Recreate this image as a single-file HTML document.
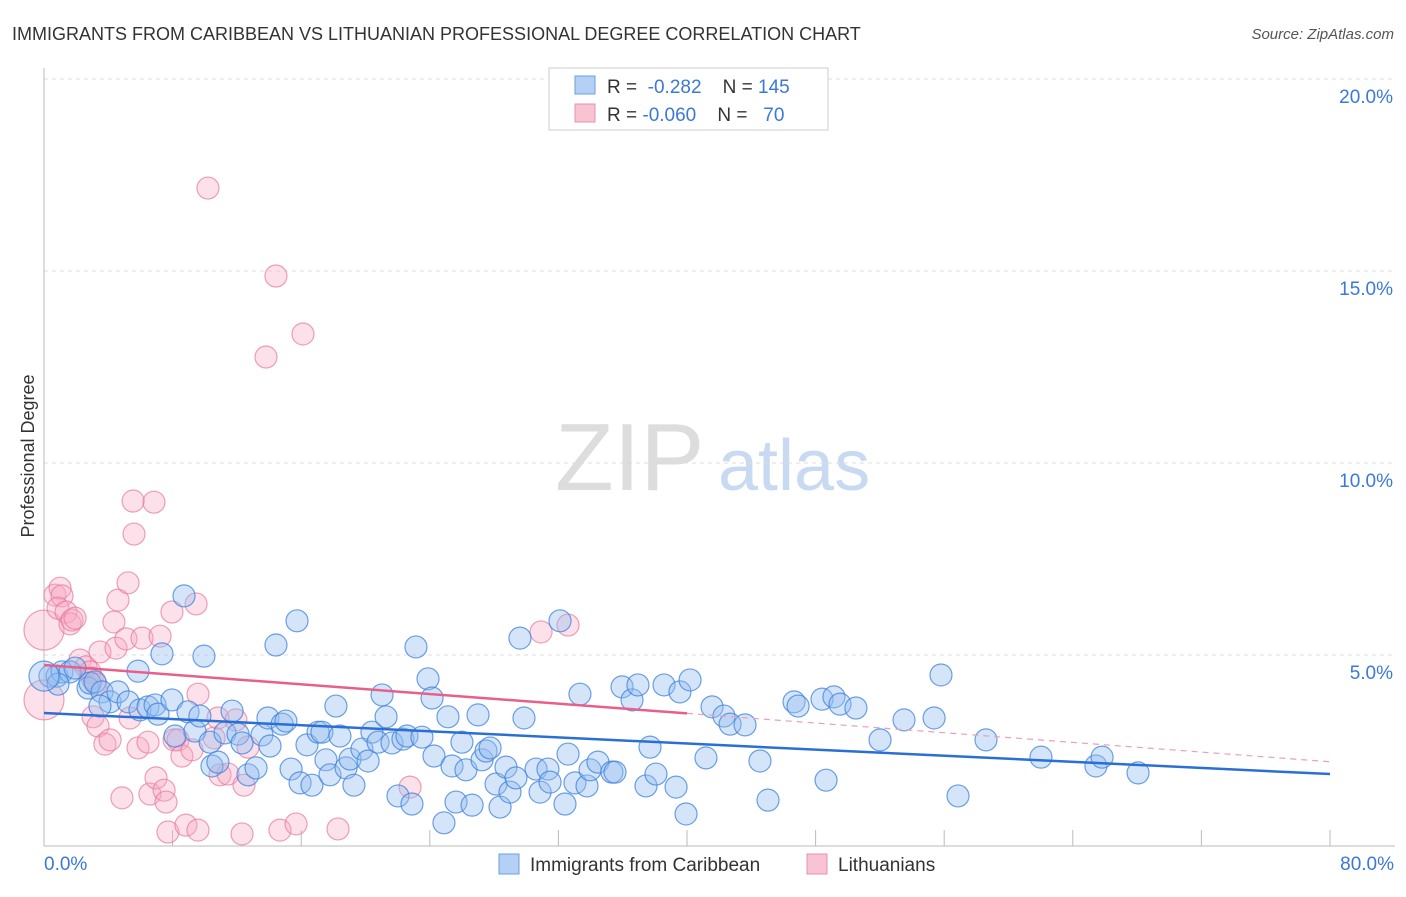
<!DOCTYPE html>
<html><head><meta charset="utf-8"><style>
body{margin:0;background:#fff;font-family:"Liberation Sans",sans-serif;}
svg text{font-family:"Liberation Sans",sans-serif;}
</style></head><body>
<svg width="1406" height="892">
<text x="12" y="40" font-size="18" fill="#333">IMMIGRANTS FROM CARIBBEAN VS LITHUANIAN PROFESSIONAL DEGREE CORRELATION CHART</text>
<text x="1394" y="39" font-size="15" fill="#555" font-style="italic" text-anchor="end">Source: ZipAtlas.com</text>
<text x="555" y="490" font-size="96" fill="#ddd" font-family="Liberation Serif">ZIP</text>
<text x="718" y="490" font-size="72" fill="#c8daf2">atlas</text>
<text transform="translate(34,456) rotate(-90)" font-size="18" fill="#333" text-anchor="middle">Professional Degree</text>
<g id="grid"></g><g id="axes"></g><g id="pts"></g><g id="trend"></g>
<g>
<rect x="549" y="68" width="279" height="62" fill="#fff" stroke="#ccc"/>
<rect x="575" y="76" width="20" height="18" fill="#b4d0f4" stroke="#6a9fe0"/>
<rect x="575" y="104" width="20" height="18" fill="#f8c4d4" stroke="#e890aa"/>
<text x="607" y="93" font-size="19" fill="#333">R = <tspan fill="#3b78d8">&#160;-0.282</tspan>&#160;&#160;&#160; N = <tspan fill="#3b78d8">145</tspan></text>
<text x="607" y="121" font-size="19" fill="#333">R = <tspan fill="#3b78d8">-0.060</tspan>&#160;&#160;&#160; N = <tspan fill="#3b78d8">&#160;&#160;70</tspan></text>
</g>
<g>
<rect x="499" y="854" width="20" height="20" fill="#b4d0f4" stroke="#6a9fe0"/>
<text x="530" y="871" font-size="19" fill="#333">Immigrants from Caribbean</text>
<rect x="807" y="854" width="20" height="20" fill="#f8c4d4" stroke="#e890aa"/>
<text x="838" y="871" font-size="19" fill="#333">Lithuanians</text>
</g>
</svg>
<script>
const yTicks=[5,10,15,20];
const xTickLabels=["0.0%","80.0%"];
const blueX=[.37,.81,1.12,1.62,1.93,.87,2.74,2.86,3.17,3.61,4.11,4.60,3.48,5.23,5.85,5.97,6.47,6.91,7.09,7.34,7.96,8.15,8.71,8.96,9.39,9.70,9.95,10.45,10.82,10.33,11.26,11.70,12.07,12.32,12.69,13.19,13.56,13.93,14.06,14.43,14.81,15.05,15.37,15.74,15.93,16.36,16.67,17.05,17.29,17.54,17.79,18.16,18.41,18.79,19.04,19.28,19.78,20.16,20.40,20.78,21.03,21.28,21.65,22.02,22.33,22.58,22.89,23.14,23.51,23.89,24.14,24.26,24.88,25.13,25.38,25.63,26.00,26.25,26.63,27.00,27.25,27.50,27.75,28.12,28.37,28.74,28.99,29.36,29.61,29.86,30.61,30.86,31.35,31.48,32.10,32.41,32.60,33.03,33.34,33.78,33.97,34.46,35.33,35.52,35.96,36.58,36.95,37.45,37.70,38.07,38.57,39.32,39.56,39.94,40.19,41.18,41.56,42.30,42.68,43.61,44.54,45.04,46.66,46.91,48.40,48.65,49.14,49.52,50.51,52.01,53.50,55.37,55.80,56.86,58.60,62.02,65.44,65.82,68.06,0];
const blueY=[4.45,4.45,4.56,4.56,4.66,4.24,4.14,4.27,4.30,4.04,3.78,4.04,3.67,3.78,4.58,3.57,3.65,3.70,3.46,5.03,3.83,2.89,6.54,3.52,3.02,3.41,4.97,2.11,2.21,2.73,2.97,3.54,2.94,2.71,1.88,2.06,2.92,3.36,2.63,5.26,3.20,3.28,2.03,5.89,1.67,2.66,1.61,2.99,2.99,2.27,1.88,3.67,2.89,2.06,2.29,1.61,2.55,2.24,2.99,2.73,3.96,3.39,2.71,1.33,2.81,2.89,1.12,5.21,2.86,4.38,3.88,2.37,0.63,3.39,2.11,1.17,2.73,2.01,1.09,3.44,2.27,2.50,2.58,1.64,1.04,2.08,1.43,1.80,5.44,3.36,2.03,1.43,2.03,1.69,5.89,1.12,2.42,1.67,3.98,1.59,2.01,2.21,1.95,1.95,4.17,3.83,4.22,1.59,2.60,1.90,4.22,1.56,4.04,0.86,4.35,2.32,3.65,3.41,3.20,3.18,2.24,1.22,3.78,3.67,3.85,1.74,3.91,3.72,3.62,2.79,3.31,3.36,4.48,1.33,2.79,2.34,2.11,2.34,1.93,4.45];
const pinkX=[0,0,.68,1.0,1.12,.87,1.37,1.62,1.74,1.93,2.24,2.61,2.86,2.99,3.23,3.05,3.36,3.48,3.79,4.11,4.35,4.48,4.60,4.85,5.10,5.23,5.35,5.60,5.85,6.10,6.47,6.59,6.84,6.97,7.22,7.47,7.59,7.71,7.96,8.09,8.34,8.58,8.83,9.21,9.46,9.58,9.58,10.20,10.58,10.82,10.95,11.45,11.94,12.32,12.44,12.69,13.81,14.43,14.68,15.68,16.11,18.29,22.77,30.92,32.60,5.54];
const pinkY=[5.65,3.83,6.56,6.74,6.54,6.22,6.12,5.81,5.91,5.96,4.87,4.69,4.56,4.40,4.24,3.39,3.15,5.08,2.68,2.79,5.86,5.18,6.43,1.28,5.42,6.88,3.36,8.15,2.58,5.44,2.73,1.38,8.98,1.80,5.49,1.48,1.17,0.39,6.12,2.79,2.79,2.37,0.57,2.53,6.33,3.98,0.44,17.16,2.84,3.36,1.88,1.90,3.31,0.34,1.61,2.60,12.76,14.87,0.44,0.60,13.36,0.47,1.56,5.60,5.78,9.01];
const blueTrend=[3.49,1.90];
const pinkTrend=[4.74,2.22];
const NS="http://www.w3.org/2000/svg";
const X=v=>44+v/80*1286, Y=v=>847-v*38.4;
function mk(tag,a,p){const e=document.createElementNS(NS,tag);for(const k in a)e.setAttribute(k,a[k]);p.appendChild(e);return e;}
const grid=document.getElementById('grid'),axes=document.getElementById('axes'),pts=document.getElementById('pts'),tr=document.getElementById('trend');
yTicks.forEach(t=>{
 const l=mk('line',{x1:44,x2:1395,y1:Y(t),y2:Y(t),stroke:'#ddd','stroke-dasharray':'4,4'},grid);
 
 
 const tx=mk('text',{x:1393,y:Y(t)+24,'font-size':19,fill:'#3b78d8','text-anchor':'end'},grid);
 tx.textContent=t.toFixed(1)+'%';
 
 
});
const ya=mk('line',{x1:44,x2:44,y1:68,y2:846,stroke:'#bbb'},axes);


const xa=mk('line',{x1:44,x2:1395,y1:846,y2:846,stroke:'#bbb'},axes);


for(let i=1;i<=10;i++){const t=mk('line',{x1:X(i*8),x2:X(i*8),y1:830,y2:846,stroke:'#bbb'},axes);
 
 }
[[0,'start',44],[80,'end',1394]].forEach((d,i)=>{const t=mk('text',{x:d[2],y:870,'font-size':19,fill:'#3b78d8','text-anchor':d[1]},axes);t.textContent=xTickLabels[i];
 
 });
pinkX.forEach((x,i)=>{const r=(i<2)?20:11;const c=mk('circle',{cx:X(x),cy:Y(pinkY[i]),r:r,fill:'rgba(246,170,195,0.35)',stroke:'rgba(232,120,155,0.7)','stroke-width':1.2},pts);
 
 });
blueX.forEach((x,i)=>{const r=(i==blueX.length-1)?15:11;const c=mk('circle',{cx:X(x),cy:Y(blueY[i]),r:r,fill:'rgba(150,190,240,0.4)',stroke:'rgba(60,130,220,0.75)','stroke-width':1.2},pts);
 
 });
const bl=mk('line',{x1:X(0),y1:Y(blueTrend[0]),x2:X(80),y2:Y(blueTrend[1]),stroke:'#2a6fd6','stroke-width':2.5},tr);


const pm=(pinkTrend[0]+pinkTrend[1])/2;
const pl=mk('line',{x1:X(0),y1:Y(pinkTrend[0]),x2:X(40),y2:Y(pm),stroke:'#e8608a','stroke-width':2.5},tr);


const pd=mk('line',{x1:X(40),y1:Y(pm),x2:X(80),y2:Y(pinkTrend[1]),stroke:'#e8a0b8','stroke-width':1.2,'stroke-dasharray':'6,5'},tr);


</script>
</body></html>
